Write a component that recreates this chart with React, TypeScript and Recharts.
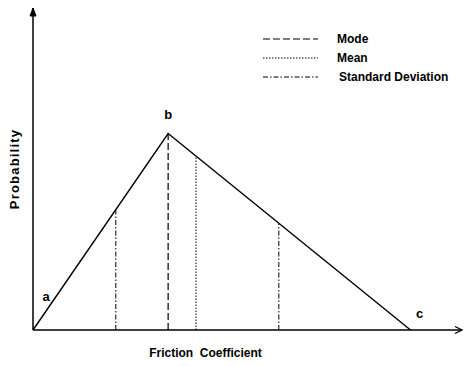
import { LineChart, Line, XAxis, YAxis, ReferenceLine, ReferenceDot, Legend, LabelList } from "recharts";

// triangular distribution: a, b (mode), c
const frictionX = [0, 3.15, 8.8];
const probability = [0, 6.1, 0];
const pointLabels = ["a", "b", "c"];

const modeX = 3.15;
const modeY = 6.1;
const meanX = 3.8;
const meanY = 5.4;
const sdX = [1.93, 5.73];
const sdY = [3.74, 3.31];

const xDomain = [0, 10];
const yDomain = [0, 10];

const legendNames = ["Mode", "Mean", "Standard Deviation"];

const data = frictionX.map((x, i) => ({ x, y: probability[i], label: pointLabels[i] }));

const FONT = "'Liberation Sans', Arial, Helvetica, sans-serif";
const MODE_DASH = "7 3";
const MEAN_DASH = "1.5 1.5";
const SD_DASH = "5 2 1.5 2";
const dashes = [MODE_DASH, MEAN_DASH, SD_DASH];

// label offsets for a, b, c
const labelOffsets = [
  { dx: 13, dy: -34 },
  { dx: 0, dy: -19 },
  { dx: 9, dy: -17 },
];

const PointLabel = (props: any) => {
  const { x, y, value, index } = props;
  const o = labelOffsets[index] || { dx: 0, dy: 0 };
  return (
    <text
      x={x + o.dx}
      y={y + o.dy}
      textAnchor="middle"
      dominantBaseline="central"
      fontFamily={FONT}
      fontWeight="bold"
      fontSize={13}
      fill="#000"
    >
      {value}
    </text>
  );
};

const XArrow = (props: any) => {
  const { cx, cy } = props;
  return <path d={`M${cx - 7},${cy - 3.5} L${cx},${cy} L${cx - 7},${cy + 3.5}`} fill="none" stroke="#000" strokeWidth={1.3} />;
};

const YArrow = (props: any) => {
  const { cx, cy } = props;
  return <path d={`M${cx - 3},${cy + 8} L${cx},${cy} L${cx + 3},${cy + 8} Z`} fill="#000" stroke="#000" strokeWidth={1} />;
};

const LegendBox = () => (
  <svg width={200} height={60}>
    {legendNames.map((name, i) => (
      <g key={name}>
        <line x1={1} x2={56} y1={10 + i * 19} y2={10 + i * 19} stroke="#000" strokeWidth={1} strokeDasharray={dashes[i]} />
        <text
          x={i === 2 ? 77 : 75}
          y={10 + i * 19}
          dominantBaseline="central"
          fontFamily={FONT}
          fontWeight="bold"
          fontSize={12}
          fill="#000"
        >
          {name}
        </text>
      </g>
    ))}
  </svg>
);

const XTitle = (props: any) => {
  const { viewBox } = props;
  return (
    <text
      x={viewBox.x + viewBox.width / 2 - 42}
      y={viewBox.y + 27}
      textAnchor="middle"
      fontFamily={FONT}
      fontWeight="bold"
      fontSize={12}
      fill="#000"
      style={{ whiteSpace: "pre" }}
    >
      {"Friction  Coefficient"}
    </text>
  );
};

const YTitle = (props: any) => {
  const { viewBox } = props;
  const cx = viewBox.x + viewBox.width - 19;
  const cy = viewBox.y + viewBox.height / 2;
  return (
    <text
      x={cx}
      y={cy}
      transform={`rotate(-90, ${cx}, ${cy})`}
      textAnchor="middle"
      dominantBaseline="central"
      fontFamily={FONT}
      fontWeight="bold"
      fontSize={13}
      letterSpacing={1.2}
      fill="#000"
    >
      Probability
    </text>
  );
};

export default function App() {
  return (
    <div style={{ position: "absolute", left: 0, top: 0, background: "#fff" }}>
      <LineChart width={464} height={366} data={data} margin={{ top: 8, right: 2, bottom: 35, left: 32 }}>
        <XAxis
          type="number"
          dataKey="x"
          domain={xDomain}
          height={1}
          tick={false}
          tickLine={false}
          axisLine={{ stroke: "#000", strokeWidth: 1.5 }}
          label={{ content: <XTitle /> }}
        />
        <YAxis
          type="number"
          domain={yDomain}
          width={1}
          tick={false}
          tickLine={false}
          axisLine={{ stroke: "#000", strokeWidth: 1.5 }}
          label={{ content: <YTitle /> }}
        />
        <ReferenceLine
          segment={[{ x: modeX, y: 0 }, { x: modeX, y: modeY }]}
          stroke="#000"
          strokeWidth={1.2}
          strokeDasharray={MODE_DASH}
        />
        <ReferenceLine
          segment={[{ x: meanX, y: 0 }, { x: meanX, y: meanY }]}
          stroke="#000"
          strokeWidth={1}
          strokeDasharray={MEAN_DASH}
        />
        {sdX.map((x, i) => (
          <ReferenceLine
            key={i}
            segment={[{ x, y: 0 }, { x, y: sdY[i] }]}
            stroke="#000"
            strokeWidth={1}
            strokeDasharray={SD_DASH}
          />
        ))}
        <Line
          type="linear"
          dataKey="y"
          stroke="#000"
          strokeWidth={1.4}
          dot={false}
          isAnimationActive={false}
        >
          <LabelList dataKey="label" content={<PointLabel />} />
        </Line>
        <ReferenceDot x={xDomain[1]} y={yDomain[0]} ifOverflow="visible" shape={<XArrow />} />
        <ReferenceDot x={xDomain[0]} y={yDomain[1]} ifOverflow="visible" shape={<YArrow />} />
        <Legend
          layout="vertical"
          align="center"
          verticalAlign="middle"
          content={<LegendBox />}
          wrapperStyle={{ top: 29, left: 262, width: 200, height: 60 }}
        />
      </LineChart>
    </div>
  );
}
